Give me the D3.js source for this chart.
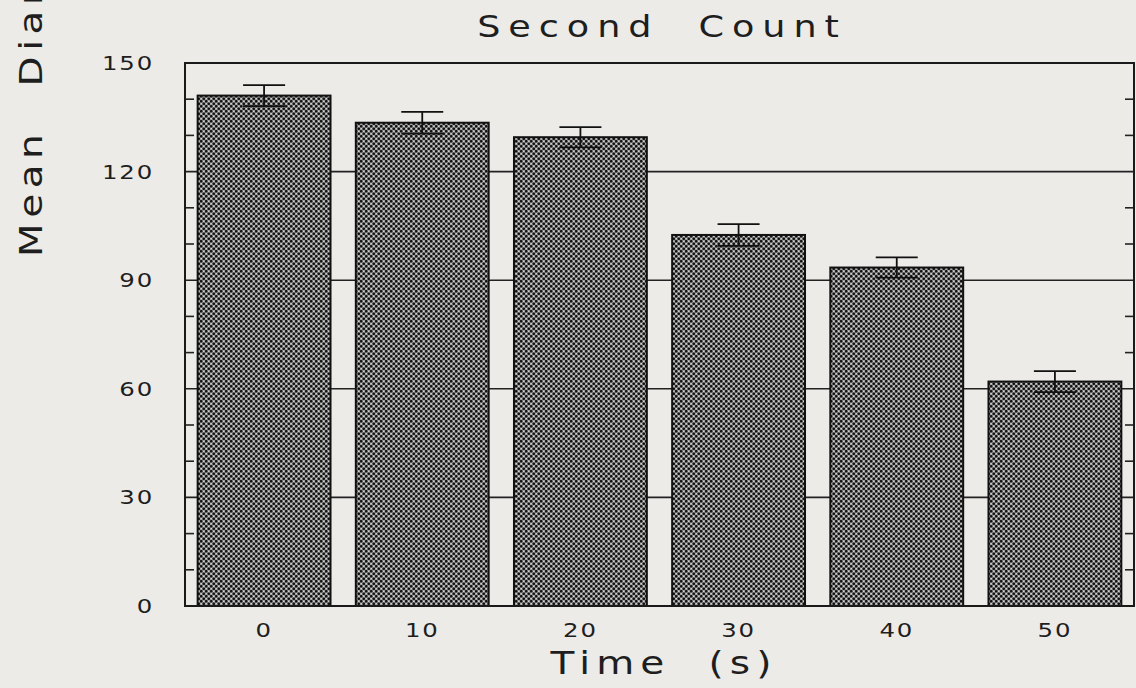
<!DOCTYPE html>
<html>
<head>
<meta charset="utf-8">
<script src="https://cdn.jsdelivr.net/npm/d3@7"></script>
<style>
  body { margin: 0; background: #ecebe8; }
  svg { display: block; }
  text { font-family: "DejaVu Sans", sans-serif; fill: #1e1e1e; }
</style>
</head>
<body>
<div id="paper"></div>
<script>
// values
var times = ["0", "10", "20", "30", "40", "50"];
var means = [141, 133.5, 129.5, 102.5, 93.5, 62];
var errs = [2.9, 3.0, 2.8, 3.0, 2.8, 2.9];
var yTicks = [0, 30, 60, 90, 120, 150];
var yMinor = [10, 20, 40, 50, 70, 80, 100, 110, 130, 140];
var grid = [30, 60, 90, 120];

var width = 1136,
    height = 688;
var m = {left: 185, right: 1134, top: 63, bottom: 606};

var svg = d3.select("#paper").append("svg")
    .attr("width", width)
    .attr("height", height)

// dotted screen fill like the printed bars
var defs = svg.append("defs");
var pat = defs.append("pattern")
    .attr("id", "dots")
    .attr("patternUnits", "userSpaceOnUse")
    .attr("width", 5).attr("height", 5);
pat.append("rect").attr("width", 5).attr("height", 5).attr("fill", "#8e8e8e");
pat.append("circle").attr("cx", 1.25).attr("cy", 1.25).attr("r", 1.3).attr("fill", "#111");
pat.append("circle").attr("cx", 3.75).attr("cy", 3.75).attr("r", 1.3).attr("fill", "#111");
pat.append("circle").attr("cx", 3.75).attr("cy", 1.25).attr("r", 0.8).attr("fill", "#dcdcdc");
pat.append("circle").attr("cx", 1.25).attr("cy", 3.75).attr("r", 0.8).attr("fill", "#dcdcdc");

var x = d3.scaleBand()
    .domain(times)
    .range([m.left, m.right])
    .paddingInner(0.16)
    .paddingOuter(0.08);

var y = d3.scaleLinear()
    .domain([0, 150])
    .range([m.bottom, m.top]);

// gridlines behind the bars
svg.append("g").selectAll("line")
    .data(grid)
    .enter().append("line")
    .attr("x1", m.left).attr("x2", m.right)
    .attr("y1", function(d) { return y(d); })
    .attr("y2", function(d) { return y(d); })
    .attr("stroke", "#222").attr("stroke-width", 1.6);

// minor ticks, left and right, pointing inward
var minor = svg.append("g").attr("stroke", "#222").attr("stroke-width", 1.6);
minor.selectAll("line.l")
    .data(yMinor)
    .enter().append("line").attr("class", "l")
    .attr("x1", m.left).attr("x2", m.left + 9)
    .attr("y1", function(d) { return y(d); })
    .attr("y2", function(d) { return y(d); });
minor.selectAll("line.r")
    .data(yMinor)
    .enter().append("line").attr("class", "r")
    .attr("x1", m.right).attr("x2", m.right - 9)
    .attr("y1", function(d) { return y(d); })
    .attr("y2", function(d) { return y(d); });

// bars
svg.append("g").selectAll("rect")
    .data(means)
    .enter().append("rect")
    .attr("x", function(d, i) { return x(times[i]); })
    .attr("y", function(d) { return y(d); })
    .attr("width", x.bandwidth())
    .attr("height", function(d) { return y(0) - y(d); })
    .attr("fill", "url(#dots)")
    .attr("stroke", "#111")
    .attr("stroke-width", 2);

// error bars with caps on both ends
var eb = svg.append("g").attr("stroke", "#111").attr("stroke-width", 1.8);
means.forEach(function(v, i) {
  var cx = x(times[i]) + x.bandwidth() / 2;
  var cap = 21;
  eb.append("line").attr("x1", cx).attr("x2", cx).attr("y1", y(v + errs[i])).attr("y2", y(v - errs[i]));
  eb.append("line").attr("x1", cx - cap).attr("x2", cx + cap).attr("y1", y(v + errs[i])).attr("y2", y(v + errs[i]));
  eb.append("line").attr("x1", cx - cap).attr("x2", cx + cap).attr("y1", y(v - errs[i])).attr("y2", y(v - errs[i]));
});

// frame
svg.append("rect")
    .attr("x", m.left).attr("y", m.top)
    .attr("width", m.right - m.left).attr("height", m.bottom - m.top)
    .attr("fill", "none").attr("stroke", "#1a1a1a").attr("stroke-width", 2);

// the plotter font is wide, so stretch DejaVu sideways a bit
var stretch = 1.22;

// y tick labels
svg.append("g").selectAll("text")
    .data(yTicks)
    .enter().append("text")
    .attr("transform", function(d) { return "translate(154," + (y(d) + 7) + ") scale(" + stretch + ",1)"; })
    .attr("text-anchor", "end")
    .attr("font-size", 20)
    .attr("letter-spacing", 1.5)
    .text(function(d) { return d; });

// x tick labels
svg.append("g").selectAll("text")
    .data(times)
    .enter().append("text")
    .attr("transform", function(d) { return "translate(" + (x(d) + x.bandwidth() / 2) + ",637) scale(" + stretch + ",1)"; })
    .attr("text-anchor", "middle")
    .attr("font-size", 20)
    .attr("letter-spacing", 1.5)
    .text(function(d) { return d; });

// titles
svg.append("text")
    .attr("transform", "translate(662,37) scale(" + stretch + ",1)")
    .attr("text-anchor", "middle")
    .attr("font-size", 30)
    .attr("letter-spacing", 6.5)
    .attr("word-spacing", 16)
    .text("Second Count");

svg.append("text")
    .attr("transform", "translate(664,674) scale(" + stretch + ",1)")
    .attr("text-anchor", "middle")
    .attr("font-size", 32)
    .attr("letter-spacing", 5)
    .attr("word-spacing", 16)
    .text("Time (s)");

svg.append("text")
    .attr("transform", "translate(42,257) rotate(-90) scale(1.22,1)")
    .attr("text-anchor", "start")
    .attr("font-size", 32)
    .attr("letter-spacing", 4.5)
    .attr("word-spacing", 20)
    .text("Mean Diameter");
</script>
</body>
</html>
